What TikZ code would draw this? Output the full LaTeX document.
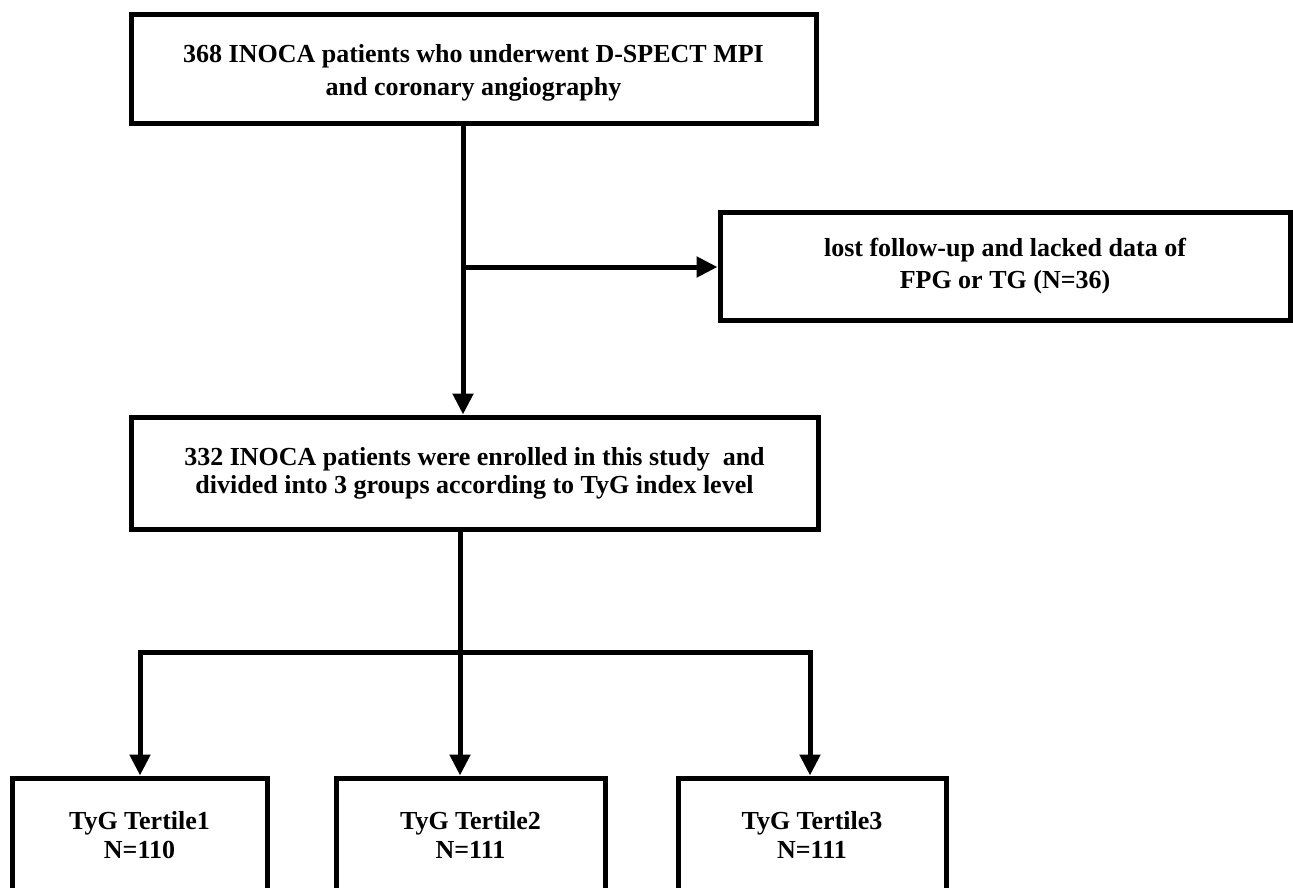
\documentclass[tikz,border=0pt]{standalone}
\usepackage{fontspec}
\setmainfont{Liberation Serif}
\usetikzlibrary{arrows.meta}
\begin{document}
\begin{tikzpicture}[x=1pt,y=-1pt,
  box/.style={draw=black, line width=5pt, inner sep=0pt, align=center},
  txt/.style={font=\bfseries\fontsize{26}{#1}\selectfont},
  conn/.style={draw=black, line width=5pt},
  arr/.style={conn, -{Triangle[length=21pt,width=20pt]}}]
\useasboundingbox (0,0) rectangle (1293,887);
\fill[white] (0,0) rectangle (1293,887);
\clip (0,0) rectangle (1293,887);
% boxes
\node[box, txt=33, minimum width=685pt, minimum height=109pt] (top) at (473.5,68.5)
  {\rule{0pt}{26pt}368 INOCA patients who underwent D-SPECT MPI\\and coronary angiography};
\node[box, txt=32, minimum width=570pt, minimum height=108pt] (excl) at (1005,266)
  {lost follow-up and lacked data of\\FPG or TG (N=36)};
\node[box, txt=28, minimum width=687pt, minimum height=112pt] (mid) at (474.5,473)
  {332 INOCA patients were enrolled in this study \ and\\divided into 3 groups according to TyG index level};
\node[box, txt=29, minimum width=255pt, minimum height=114pt] (g1) at (139.5,835)
  {TyG Tertile1\\N=110};
\node[box, txt=29, minimum width=269pt, minimum height=114pt] (g2) at (470.5,835)
  {TyG Tertile2\\N=111};
\node[box, txt=29, minimum width=268pt, minimum height=114pt] (g3) at (812,835)
  {TyG Tertile3\\N=111};
% junction coordinates
\coordinate (jx) at (463,267);
\coordinate (bc) at (460,652);
\coordinate (bl) at (140,652);
\coordinate (br) at (810,652);
% connectors
\draw[arr] (top.south -| jx) -- (mid.north -| jx);
\draw[arr] (jx) -- (excl.west |- jx);
\draw[conn] (mid.south -| bc) -- (bc);
\draw[arr] (bc) -| (g1.north -| bl);
\draw[arr] (bc) -| (g3.north -| br);
\draw[arr] (bc) -- (g2.north -| bc);
\end{tikzpicture}
\end{document}
